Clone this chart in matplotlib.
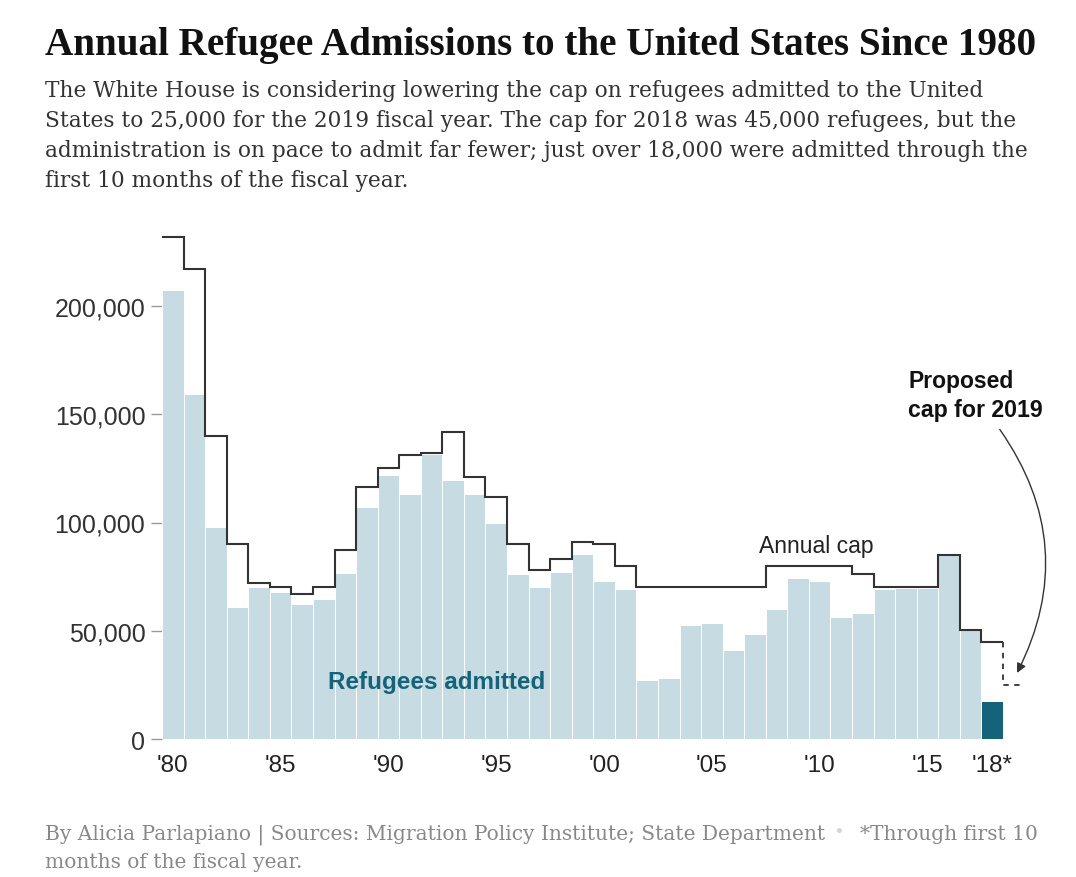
import matplotlib
matplotlib.use('Agg')
import matplotlib.pyplot as plt
import numpy as np

# values
years = list(range(1980, 2019))
admitted = [207400, 159400, 98000, 61000, 70300, 67700, 62200, 64600, 76500, 107000,
            122000, 113200, 131500, 119500, 113000, 99900, 76300, 70200, 77000, 85500,
            73000, 69300, 27300, 28200, 52700, 53600, 41100, 48300, 60000, 74500,
            73200, 56400, 58200, 69500, 69800, 69900, 84900, 50300, 17700]
annual_cap = [231700, 217000, 140000, 90000, 72000, 70000, 67000, 70000, 87500, 116500,
              125000, 131000, 132000, 142000, 121000, 112000, 90000, 78000, 83000, 91000,
              90000, 80000, 70000, 70000, 70000, 70000, 70000, 70000, 80000, 80000,
              80000, 80000, 76000, 70000, 70000, 70000, 85000, 50300, 45000]
proposed_2019 = 25000

xtick_years = [1980, 1985, 1990, 1995, 2000, 2005, 2010, 2015, 2018]
xtick_labels = ["'80", "'85", "'90", "'95", "'00", "'05", "'10", "'15", "'18*"]
ytick_vals = [0, 50000, 100000, 150000, 200000]

title = "Annual Refugee Admissions to the United States Since 1980"
subtitle_lines = [
    "The White House is considering lowering the cap on refugees admitted to the United",
    "States to 25,000 for the 2019 fiscal year. The cap for 2018 was 45,000 refugees, but the",
    "administration is on pace to admit far fewer; just over 18,000 were admitted through the",
    "first 10 months of the fiscal year.",
]
footer_lines = [
    "By Alicia Parlapiano | Sources: Migration Policy Institute; State Department",
    "months of the fiscal year.",
]

light = '#c7dbe2'
dark = '#14637a'
W, H = 1076, 878

fig = plt.figure(figsize=(W / 100, H / 100), dpi=100)
fig.patch.set_facecolor('white')

def fx(px):
    return px / W

def fy(py):
    return 1 - py / H

# axes placed in pixels: x 162..1040, y 230..740
ax = fig.add_axes([fx(162), fy(740), (1040 - 162) / W, (740 - 230) / H])
px_per_year = 841 / 39.0
ax.set_xlim(1979.5, 1979.5 + 878 / px_per_year)
ax.set_ylim(0, (740 - 230) / 216.5 * 100000)

colors = [light] * (len(years) - 1) + [dark]
ax.bar(years, admitted, width=1.0, color=colors, edgecolor='white', linewidth=0.7, zorder=2)

edges = np.arange(1979.5, 2019.0, 1.0)
ax.stairs(annual_cap, edges, baseline=None, color='#333333', linewidth=1.5, zorder=3)
ax.plot([2018.5, 2018.5, 2019.5], [annual_cap[-1], proposed_2019, proposed_2019],
        color='#333333', linewidth=1.3, linestyle=(0, (3, 3)), zorder=3)

for s in ax.spines.values():
    s.set_visible(False)

ax.set_yticks(ytick_vals)
ax.set_yticklabels(['{:,}'.format(v) for v in ytick_vals])
ax.tick_params(axis='y', length=8, width=1, color='#999999', pad=4,
               labelsize=18, labelcolor='#333333')
ax.set_xticks(xtick_years)
ax.set_xticklabels(xtick_labels)
ax.tick_params(axis='x', length=0, pad=11, labelsize=17.5, labelcolor='#222222')
for lab in ax.get_xticklabels() + ax.get_yticklabels():
    lab.set_fontfamily('Liberation Sans')

ax.text(2009.85, 86400, 'Annual cap', ha='center', va='baseline', fontsize=16.5,
        family='Liberation Sans', color='#222222', zorder=4)
ax.text(1992.25, 23500, 'Refugees admitted', ha='center', va='baseline', fontsize=17.5,
        fontweight='bold', family='Liberation Sans', color=dark, zorder=4)
ax.text(2014.1, 162600, 'Proposed', ha='left', va='baseline', fontsize=16.5,
        fontweight='bold', family='Liberation Sans', color='#111111')
ax.text(2014.1, 149000, 'cap for 2019', ha='left', va='baseline', fontsize=16.7,
        fontweight='bold', family='Liberation Sans', color='#111111')
ax.annotate('', xy=(2019.15, 30500), xytext=(2018.35, 143000),
            arrowprops=dict(arrowstyle='-|>', color='#333333', lw=1.0,
                            mutation_scale=14, shrinkA=0, shrinkB=0,
                            connectionstyle='arc3,rad=-0.3'))

# title, subtitle, footer
fig.text(fx(45), fy(55), title, ha='left', va='baseline', fontsize=28.2,
         fontweight='bold', family='Liberation Serif', color='#111111')
for i, line in enumerate(subtitle_lines):
    fig.text(fx(45), fy(97 + 30 * i), line, ha='left', va='baseline', fontsize=15.6,
             family='DejaVu Serif', color='#333333')

fig.text(fx(45), fy(840), footer_lines[0], ha='left', va='baseline', fontsize=14.5,
         family='DejaVu Serif', color='#888888')
fig.text(fx(839), fy(837), u'\u2022', ha='center', va='baseline', fontsize=13,
         family='DejaVu Sans', color='#d5d5d5')
fig.text(fx(1038), fy(840), '*Through first 10', ha='right', va='baseline', fontsize=14.5,
         family='DejaVu Serif', color='#888888')
fig.text(fx(45), fy(868), footer_lines[1], ha='left', va='baseline', fontsize=14.5,
         family='DejaVu Serif', color='#888888')

plt.savefig('out.png', dpi=100, facecolor='white')
